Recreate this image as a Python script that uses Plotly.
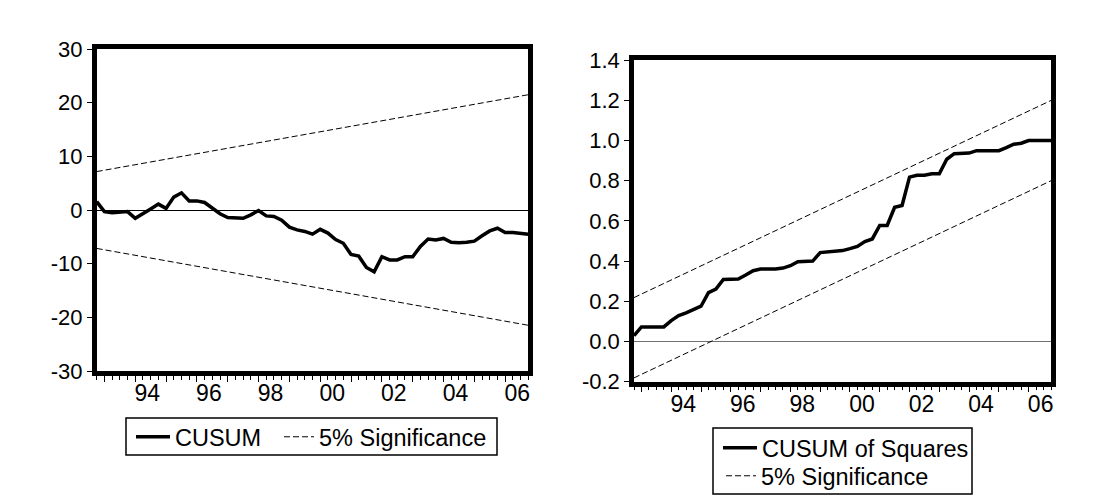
import plotly.graph_objects as go

# Quarterly sample 1992Q4 .. 2006Q4
QUARTER_LABELS = [f"{1992 + (3 + i) // 4}Q{(3 + i) % 4 + 1}" for i in range(57)]

# Recursive-residual CUSUM statistic
CUSUM = [1.55, -0.3, -0.5, -0.4, -0.3, -1.55, -0.6, 0.2, 1.1, 0.3,
         2.4, 3.2, 1.7, 1.7, 1.4, 0.4, -0.7, -1.4, -1.5, -1.55,
         -0.9, -0.1, -1.1, -1.2, -1.9, -3.2, -3.7, -4.0, -4.5, -3.6,
         -4.3, -5.5, -6.2, -8.3, -8.6, -10.7, -11.5, -8.7, -9.3, -9.3,
         -8.7, -8.7, -6.8, -5.4, -5.6, -5.3, -6.0, -6.1, -6.0, -5.8,
         -4.8, -3.9, -3.4, -4.2, -4.2, -4.35, -4.5]

# CUSUM of squares statistic
CUSUM_SQ = [0.028, 0.072, 0.072, 0.072, 0.072, 0.103, 0.128, 0.142, 0.158, 0.175,
            0.243, 0.26, 0.308, 0.31, 0.31, 0.33, 0.352, 0.36, 0.36, 0.36,
            0.365, 0.377, 0.397, 0.397, 0.40, 0.442, 0.445, 0.447, 0.452, 0.462,
            0.473, 0.497, 0.51, 0.577, 0.577, 0.668, 0.677, 0.818, 0.827, 0.827,
            0.835, 0.835, 0.907, 0.935, 0.935, 0.938, 0.95, 0.95, 0.95, 0.95,
            0.965, 0.982, 0.987, 1.0, 1.0, 1.0, 1.0]

# 5% significance bands (straight lines: value at first and last observation)
CUSUM_BAND_UPPER = [7.16, 21.48]
CUSUM_BAND_LOWER = [-7.16, -21.48]
CUSUMSQ_BAND_UPPER = [0.218, 1.2]
CUSUMSQ_BAND_LOWER = [-0.182, 0.8]

# Axis labels
CUSUM_TICKS = [-30, -20, -10, 0, 10, 20, 30]
CUSUM_TICKTEXT = ["-30", "-20", "-10", "0", "10", "20", "30"]
CUSUMSQ_TICKS = [-0.2, 0.0, 0.2, 0.4, 0.6, 0.8, 1.0, 1.2, 1.4]
CUSUMSQ_TICKTEXT = ["-0.2", "0.0", "0.2", "0.4", "0.6", "0.8", "1.0", "1.2", "1.4"]
YEAR_TICKS = list(range(1993, 2007))
YEAR_TICKTEXT = [f"{y % 100:02d}" if y % 2 == 0 else "" for y in YEAR_TICKS]

W, H = 1103, 501
FONT = "Liberation Sans, Arial, Helvetica, sans-serif"

x = [int(s[:4]) + (int(s[-1]) - 1) / 4 for s in QUARTER_LABELS]
x_ends = [x[0], x[-1]]


def band(upper, lower):
    # both band edges in one trace, separated by a gap
    return x_ends + [None] + x_ends, upper + [None] + lower


fig = go.Figure()
fig.add_trace(go.Scatter(x=x, y=CUSUM, mode="lines", name="CUSUM",
                         line=dict(color="black", width=3.5),
                         xaxis="x", yaxis="y", legend="legend"))
bx, by = band(CUSUM_BAND_UPPER, CUSUM_BAND_LOWER)
fig.add_trace(go.Scatter(x=bx, y=by, mode="lines", name="5% Significance",
                         line=dict(color="black", width=1, dash="6px,3px"),
                         xaxis="x", yaxis="y", legend="legend2"))
fig.add_trace(go.Scatter(x=x, y=CUSUM_SQ, mode="lines", name="CUSUM of Squares",
                         line=dict(color="black", width=3.5),
                         xaxis="x2", yaxis="y2", legend="legend3"))
bx, by = band(CUSUMSQ_BAND_UPPER, CUSUMSQ_BAND_LOWER)
fig.add_trace(go.Scatter(x=bx, y=by, mode="lines", name="5% Significance",
                         line=dict(color="black", width=1, dash="6px,3px"),
                         xaxis="x2", yaxis="y2", legend="legend4"))


def xaxis_style(domain, anchor):
    return dict(
        domain=domain, anchor=anchor, range=[x[0], x[-1]],
        showline=True, linecolor="black", linewidth=4.5, mirror=True,
        showgrid=False, zeroline=False,
        tickmode="array", tickvals=YEAR_TICKS, ticktext=YEAR_TICKTEXT,
        ticks="outside", ticklen=6, tickwidth=1, tickcolor="black",
        ticklabelshift=12, ticklabelstandoff=-8,
        minor=dict(tick0=x[0], dtick=0.25, ticks="outside", ticklen=4,
                   tickwidth=1, tickcolor="black"),
        tickfont=dict(family=FONT, size=23, color="black"),
    )


def yaxis_style(domain, anchor, rng, vals, text, zcolor):
    return dict(
        domain=domain, anchor=anchor, range=rng,
        showline=True, linecolor="black", linewidth=4.5, mirror=True,
        showgrid=False, zeroline=True, zerolinecolor=zcolor, zerolinewidth=1,
        tickmode="array", tickvals=vals, ticktext=text,
        ticks="outside", ticklen=5, tickwidth=1, tickcolor="black",
        tickfont=dict(family=FONT, size=22, color="black"),
    )


def legend_item(px, py, itemwidth):
    return dict(x=px / W, y=1 - py / H, xanchor="left", yanchor="middle",
                orientation="v", bgcolor="rgba(0,0,0,0)", borderwidth=0,
                itemwidth=itemwidth,
                font=dict(family=FONT, size=23.5, color="black"))


def legend_box(x0, y0, x1, y1):
    return dict(type="rect", xref="paper", yref="paper",
                x0=x0 / W, x1=x1 / W, y0=1 - y1 / H, y1=1 - y0 / H,
                line=dict(color="black", width=1.5), fillcolor="white",
                layer="below")


fig.update_layout(
    width=W, height=H, autosize=False,
    margin=dict(l=0, r=0, t=0, b=0, pad=0, autoexpand=False),
    paper_bgcolor="white", plot_bgcolor="white",
    showlegend=True,
    xaxis=xaxis_style([96.7 / W, 528.3 / W], "y"),
    yaxis=yaxis_style([1 - 371 / H, 1 - 49 / H], "x", [-30, 30],
                      CUSUM_TICKS, CUSUM_TICKTEXT, "black"),
    xaxis2=xaxis_style([634 / W, 1051 / W], "y2"),
    yaxis2=yaxis_style([1 - 381.5 / H, 1 - 60.3 / H], "x2", [-0.2, 1.4],
                       CUSUMSQ_TICKS, CUSUMSQ_TICKTEXT, "#707070"),
    legend=legend_item(131, 437, 34),
    legend2=legend_item(279, 437, 30),
    legend3=legend_item(718, 448, 34),
    legend4=legend_item(721, 476, 30),
    shapes=[legend_box(126, 418, 497, 455), legend_box(713, 428, 972, 494)],
)

fig.write_html("out.html")
